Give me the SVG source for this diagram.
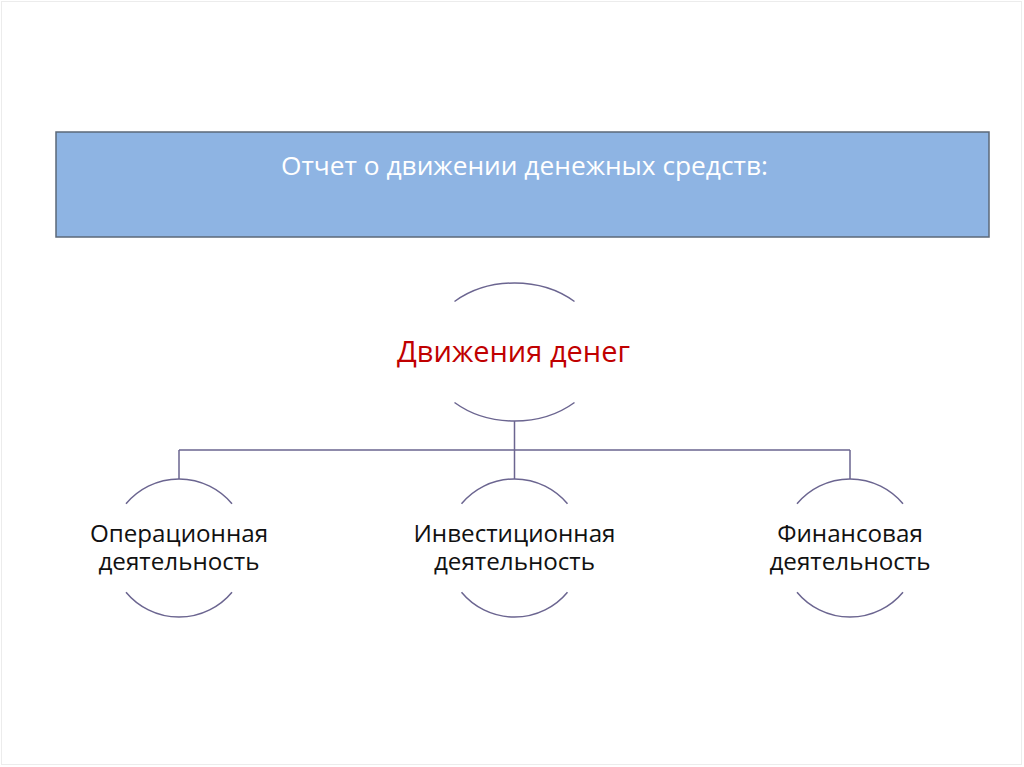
<svg xmlns="http://www.w3.org/2000/svg" width="1024" height="767" viewBox="0 0 1024 767">
<style>
.t{font-family:"Open Sans","Noto Sans","DejaVu Sans",sans-serif;text-anchor:middle}
.lbl{font-size:24.2px;fill:#111111}
.arc{fill:none;stroke:#6B6590;stroke-width:1.5}
.con{fill:none;stroke:#6B6590;stroke-width:1.5}
</style>
<rect x="0" y="0" width="1024" height="767" fill="#ffffff"/>
<rect x="1.5" y="1.5" width="1020" height="763" fill="none" stroke="#ececec" stroke-width="1"/>
<g id="header">
<rect x="56" y="132" width="933" height="105" fill="#8EB4E3" stroke="#5B6878" stroke-width="1.5"/>
<text class="t" x="524.5" y="175" font-size="26.3px" fill="#ffffff">Отчет о движении денежных средств:</text>
</g>
<g id="connectors">
<path class="con" d="M514.5,421 V479 M179,450 H850 M179,450 V479 M850,450 V479"/>
</g>
<g id="node-root">
<path class="arc" d="M454.5,301.5 A88,69 0 0 1 574.5,301.5"/>
<path class="arc" d="M454.5,402.5 A88,69 0 0 0 574.5,402.5"/>
<text class="t" x="513.5" y="362" font-size="29px" fill="#C00000">Движения денег</text>
</g>
<g id="node-operating">
<path class="arc" d="M126,503.8 A69,69 0 0 1 232,503.8"/>
<path class="arc" d="M126,592.2 A69,69 0 0 0 232,592.2"/>
<text class="t lbl" x="179" y="542">Операционная<tspan x="179" dy="28">деятельность</tspan></text>
</g>
<g id="node-investing">
<path class="arc" d="M461.5,503.8 A69,69 0 0 1 567.5,503.8"/>
<path class="arc" d="M461.5,592.2 A69,69 0 0 0 567.5,592.2"/>
<text class="t lbl" x="514.5" y="542">Инвестиционная<tspan x="514.5" dy="28">деятельность</tspan></text>
</g>
<g id="node-financing">
<path class="arc" d="M797,503.8 A69,69 0 0 1 903,503.8"/>
<path class="arc" d="M797,592.2 A69,69 0 0 0 903,592.2"/>
<text class="t lbl" x="850" y="542">Финансовая<tspan x="850" dy="28">деятельность</tspan></text>
</g>
</svg>
